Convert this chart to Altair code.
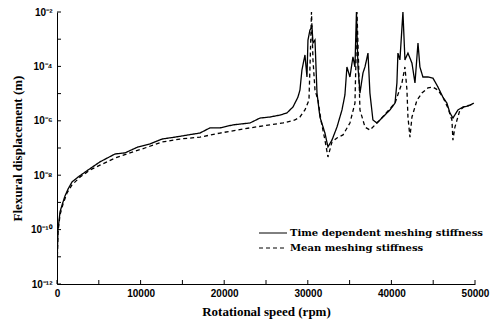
import altair as alt
import pandas as pd
import numpy as np

# Rotational speed (rpm) and log10 of flexural displacement (m)
td_rpm = [0, 36, 120, 360, 600, 960, 1320, 1790, 2510, 3710, 5140, 6940, 8130, 9690,
          11120, 12560, 14110, 15670, 17100, 18300, 19500, 21050, 23080, 24280, 25470,
          26670, 27510, 28230, 28820, 29060, 29300, 29660, 29900, 30020, 30260, 30500,
          30620, 30860, 31100, 31450, 32050, 32410, 32890, 33490, 34090, 34440, 34680,
          35040, 35400, 35640, 35820, 36000, 36240, 36600, 36840, 37200, 37430, 37790,
          38270, 39830, 40430, 40660, 40780, 41020, 41380, 41620, 41980, 42460, 42820,
          43180, 43410, 43770, 44370, 44970, 45570, 46160, 46640, 47000, 47360, 47960,
          48560, 49160, 49870]
td_log = [-12.0, -10.93, -10.01, -9.35, -9.10, -8.76, -8.51, -8.25, -8.07, -7.81, -7.51,
          -7.22, -7.18, -6.96, -6.85, -6.67, -6.60, -6.52, -6.45, -6.26, -6.26, -6.15,
          -6.08, -5.90, -5.86, -5.79, -5.71, -5.49, -5.13, -4.87, -4.13, -3.58, -4.39,
          -3.03, -2.66, -2.55, -3.14, -3.03, -4.98, -5.86, -6.45, -6.96, -6.71, -6.23,
          -5.60, -5.05, -4.02, -4.39, -3.65, -4.02, -2.00, -4.02, -4.98, -4.24, -4.02,
          -3.51, -4.98, -5.97, -6.08, -5.60, -5.35, -4.61, -3.51, -3.76, -2.00, -3.76,
          -3.51, -3.88, -4.61, -3.14, -4.02, -4.39, -4.39, -4.43, -4.76, -5.13, -5.35,
          -5.71, -5.90, -5.60, -5.49, -5.46, -5.35]

mean_rpm = [0, 36, 120, 360, 720, 1200, 1790, 2750, 3950, 5140, 6940, 8730, 10520, 12560,
            14710, 17100, 19500, 23080, 25470, 27030, 28460, 29060, 29660, 30140, 30320,
            30440, 30620, 30860, 31220, 31570, 32050, 32410, 32890, 33490, 34210, 35040,
            35640, 35760, 35880, 36060, 36240, 36840, 37430, 38630, 40430, 41260, 41620,
            41860, 41980, 42220, 42460, 43060, 43650, 44370, 44970, 45570, 46160, 46760,
            47240, 47360, 47600, 48200, 48800, 49400, 49870]
mean_log = [-12.0, -11.12, -10.09, -9.46, -9.06, -8.65, -8.36, -8.07, -7.81, -7.63, -7.37,
            -7.18, -7.00, -6.78, -6.67, -6.60, -6.45, -6.26, -6.15, -6.08, -5.97, -5.86,
            -5.60, -5.24, -3.40, -2.00, -3.76, -4.87, -5.24, -5.97, -6.71, -7.33, -6.78,
            -6.63, -6.52, -6.08, -5.35, -3.76, -2.00, -3.76, -5.60, -6.23, -6.34, -5.97,
            -5.35, -4.61, -4.02, -4.87, -5.86, -6.60, -5.86, -5.24, -4.98, -4.79, -4.76,
            -4.87, -5.13, -5.53, -5.97, -6.71, -6.23, -5.60, -5.46, -5.42, -5.38]

series_names = ["Time dependent meshing stiffness", "Mean meshing stiffness"]
x_label_values = [0, 10000, 20000, 30000, 40000, 50000]
x_tick_values = [0, 5000, 10000, 15000, 20000, 25000, 30000, 35000, 40000, 45000, 50000]
y_decades = [-12, -11, -10, -9, -8, -7, -6, -5, -4, -3, -2]

df = pd.concat([
    pd.DataFrame({"rpm": td_rpm, "disp": np.power(10.0, td_log), "series": series_names[0]}),
    pd.DataFrame({"rpm": mean_rpm, "disp": np.power(10.0, mean_log), "series": series_names[1]}),
])

W, H = 418, 272
serif = "Liberation Serif"
wide_serif = "DejaVu Serif"
sans = "Liberation Sans"

label_expr = (
    "round(log(datum.value)/LN10) == -2 ? '10⁻²' : "
    "round(log(datum.value)/LN10) == -4 ? '10⁻⁴' : "
    "round(log(datum.value)/LN10) == -6 ? '10⁻⁶' : "
    "round(log(datum.value)/LN10) == -8 ? '10⁻⁸' : "
    "round(log(datum.value)/LN10) == -10 ? '10⁻¹⁰' : "
    "round(log(datum.value)/LN10) == -12 ? '10⁻¹²' : ''"
)

xscale = alt.Scale(domain=[0, 50000], nice=False)
yscale = alt.Scale(type="log", domain=[1e-12, 1e-2], nice=False)
dash_scale = alt.Scale(domain=series_names, range=[[1, 0], [4, 3]])

lines = alt.Chart(df).mark_line(color="black", strokeWidth=1.3, clip=True).encode(
    x=alt.X("rpm:Q", scale=xscale,
            axis=alt.Axis(title="Rotational speed (rpm)", values=x_label_values,
                          format="d", ticks=False, grid=False, domainColor="black",
                          domainWidth=1, labelFont=sans, labelFontWeight="bold",
                          labelFontSize=10, labelColor="black", labelPadding=4,
                          titleFont=serif, titleFontWeight="bold", titleFontSize=13,
                          titleColor="black", titlePadding=7, labelFlush=False)),
    y=alt.Y("disp:Q", scale=yscale,
            axis=alt.Axis(title="Flexural displacement (m)",
                          values=[10.0 ** d for d in y_decades], labelExpr=label_expr,
                          ticks=False, grid=False, domainColor="black", domainWidth=1,
                          labelFont=sans, labelFontWeight="bold", labelFontSize=10,
                          labelColor="black", labelPadding=5,
                          titleFont=serif, titleFontWeight="bold", titleFontSize=13,
                          titleColor="black", titlePadding=6)),
    strokeDash=alt.StrokeDash("series:N", scale=dash_scale, legend=None),
)

# legend drawn as a small layer (line samples + labels)
leg_df = pd.DataFrame({"series": series_names, "row": [0, 1]})
leg_base = alt.Chart(leg_df)
leg_line0 = leg_base.transform_filter("datum.row == 0").mark_rule(
    color="black", strokeWidth=1).encode(
    x=alt.value(202), x2=alt.value(230), y=alt.value(221),
    strokeDash=alt.StrokeDash("series:N", scale=dash_scale, legend=None))
leg_line1 = leg_base.transform_filter("datum.row == 1").mark_rule(
    color="black", strokeWidth=1).encode(
    x=alt.value(202), x2=alt.value(230), y=alt.value(236),
    strokeDash=alt.StrokeDash("series:N", scale=dash_scale, legend=None))
leg_text0 = leg_base.transform_filter("datum.row == 0").mark_text(
    align="left", baseline="middle", font=wide_serif, fontWeight="bold", fontSize=10,
    color="black").encode(x=alt.value(233), y=alt.value(221), text="series:N")
leg_text1 = leg_base.transform_filter("datum.row == 1").mark_text(
    align="left", baseline="middle", font=wide_serif, fontWeight="bold", fontSize=10,
    color="black").encode(x=alt.value(233), y=alt.value(236), text="series:N")

xticks = alt.Chart(pd.DataFrame({"rpm": x_tick_values})).mark_rule(
    color="black", strokeWidth=1).encode(
    x=alt.X("rpm:Q", scale=xscale), y=alt.value(H), y2=alt.value(H - 4))

yticks = alt.Chart(pd.DataFrame({"disp": [10.0 ** d for d in y_decades]})).mark_rule(
    color="black", strokeWidth=1).encode(
    y=alt.Y("disp:Q", scale=yscale), x=alt.value(0), x2=alt.value(4))

chart = alt.layer(lines, xticks, yticks, leg_line0, leg_line1, leg_text0, leg_text1).properties(
    width=W, height=H,
    autosize=alt.AutoSizeParams(type="none"),
    padding={"left": 57, "top": 12, "right": 19, "bottom": 45},
    background="white",
).configure_view(strokeWidth=0)

chart.save("out.html", embed_options={"renderer": "svg", "actions": False})
